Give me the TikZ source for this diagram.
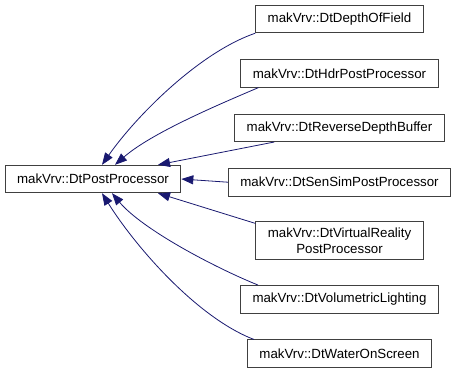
\documentclass[tikz,border=0pt]{standalone}
\usepackage{fontspec}
\setmainfont{Liberation Sans}
\usepackage{tikz}
\usepackage{xcolor}
\usetikzlibrary{arrows.meta,positioning}
\definecolor{dgInk}{HTML}{000000}
\definecolor{dgNavy}{HTML}{191970}
\definecolor{dgRule}{HTML}{404040}
\tikzset{
  cls/.style={draw=dgRule,fill=white,line width=0.9pt,inner xsep=12pt,inner ysep=6pt,
              align=center,font=\fontsize{13.3pt}{16pt}\selectfont,text=dgInk,minimum height=27.5pt},
  arr/.style={-{Triangle[length=12pt,width=9pt]},draw=dgNavy,line width=0.8pt},
}
\begin{document}
\begin{tikzpicture}
        \useasboundingbox (0,0) rectangle (456pt,-376pt);
        \node[cls] (base) at (93pt,-179pt) {makVrv::DtPostProcessor};
        \node[cls] (depth) at (339.5pt,-19pt) {makVrv::DtDepthOfField};
        \node[cls,below=26pt of depth] (hdr) {makVrv::DtHdrPostProcessor};
        \node[cls,below=26pt of hdr] (rev) {makVrv::DtReverseDepthBuffer};
        \node[cls,below=26pt of rev] (sensim) {makVrv::DtSenSimPostProcessor};
        \node[cls,below=25pt of sensim] (virt) {makVrv::DtVirtualReality\\PostProcessor};
        \node[cls,below=25pt of virt] (vol) {makVrv::DtVolumetricLighting};
        \node[cls,below=26pt of vol] (water) {makVrv::DtWaterOnScreen};
        % derived classes -> base
        \draw[arr] (depth.south west) to[out=199,in=55,looseness=0.75] ([xshift=9pt]base.north);
        \draw[arr] ([xshift=18pt]hdr.south west) to[out=203,in=41,looseness=0.75] ([xshift=22pt]base.north);
        \draw[arr] ([xshift=40pt]rev.south west) -- ([xshift=65pt]base.north);
        \draw[arr] (sensim.west) -- (base.east);
        \draw[arr] ([yshift=-2pt]virt.north west) -- ([xshift=65pt]base.south);
        \draw[arr] ([xshift=18pt]vol.north west) to[out=158,in=310,looseness=0.7] ([xshift=19pt]base.south);
        \draw[arr] ([xshift=7pt]water.north west) to[out=159,in=302,looseness=0.75] ([xshift=9pt]base.south);
      \end{tikzpicture}
\end{document}
